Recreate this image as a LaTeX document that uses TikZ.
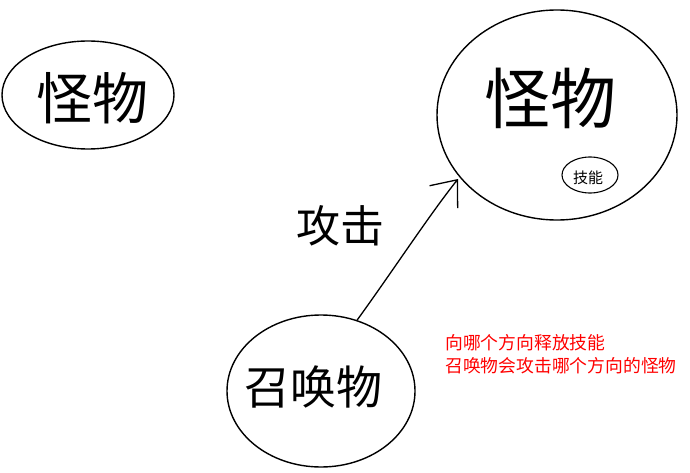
\documentclass[tikz,border=0pt]{standalone}
\usepackage{fontspec}
\setmainfont{Noto Sans CJK SC}
\usetikzlibrary{shapes.geometric,arrows.meta}
\begin{document}
\begin{tikzpicture}[x=1pt,y=1pt,
  blob/.style={draw,ellipse,line width=1.4pt,inner sep=0pt},
  hand/.style={font=\fontsize{#1}{#1}\selectfont},
  note/.style={text=red,font=\fontsize{17.8}{23}\selectfont,align=left,anchor=north west,inner sep=0pt}]
\path[use as bounding box,fill=white] (0,0) rectangle (690,472);
\node[blob,minimum width=172,minimum height=108] (m1) at (88,377) {};
\node[hand=56] (m1t) at (92,374) {怪物};
\node[blob,minimum width=240,minimum height=210] (m2) at (557,357) {};
\node[hand=66] (m2t) at (550,374) {怪物};
\node[blob,minimum width=56,minimum height=36,line width=1.1pt] (sk) at (590,297) {};
\node[hand=15] (skt) at (588,294) {技能};
\node[blob,minimum width=188,minimum height=152] (s) at (321,81) {};
\node[hand=46] (st) at (313,85) {召唤物};
\coordinate (tip) at (458,293);
\draw[line width=1.3pt,-{Straight Barb[length=22pt,width=36pt]}] (s.63) .. controls (392,200) and (430,258) .. (tip);
\node[hand=44] (atk) at (340,246) {攻击};
\node[note] (n) at (445,138) {向哪个方向释放技能\\召唤物会攻击哪个方向的怪物};
\end{tikzpicture}
\end{document}
